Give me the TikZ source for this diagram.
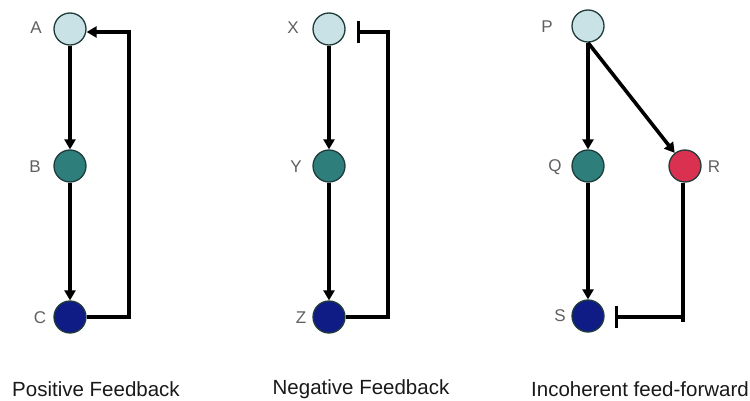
\documentclass[tikz,border=0pt]{standalone}
\usepackage{fontspec}
\setmainfont{Liberation Sans}
\usetikzlibrary{arrows.meta,calc}
\definecolor{cLight}{HTML}{C8E2E6}
\definecolor{cTeal}{HTML}{2E7F7C}
\definecolor{cNavy}{HTML}{101C85}
\definecolor{cRed}{HTML}{DA3150}
\definecolor{cEdge}{HTML}{1F3B3B}
\tikzset{
  gene/.style={circle,draw=cEdge,line width=1.3pt,minimum size=32pt,inner sep=0pt},
  lbl/.style={text=gray!75!black,font=\fontsize{17}{17}\selectfont,inner sep=0pt},
  ttl/.style={font=\fontsize{20.5}{21}\selectfont,inner sep=0pt,text=black!90},
  act/.style={line width=3.6pt,-{Triangle[length=10pt,width=11pt]}},
  inh/.style={line width=3.6pt,-{Bar[width=22pt]}},
  wire/.style={line width=3.6pt}
}
\begin{document}
\begin{tikzpicture}[x=1pt,y=-1pt]
\useasboundingbox (0,0) rectangle (750,401);
% Positive feedback
\node[gene,fill=cLight] (A) at (70,29) {};
\node[gene,fill=cTeal] (B) at (70,166) {};
\node[gene,fill=cNavy] (C) at (70,317) {};
\node[lbl] (lA) at (36,28) {A};
\node[lbl] (lB) at (35,167) {B};
\node[lbl] (lC) at (40,318) {C};
\coordinate (cA) at (129,32);
\draw[act] (A) -- (B);
\draw[act] (B) -- (C);
\draw[act] (C.east) -| (cA) -- (A.east |- cA);
% Negative feedback
\node[gene,fill=cLight] (X) at (329,29) {};
\node[gene,fill=cTeal] (Y) at (329,166) {};
\node[gene,fill=cNavy] (Z) at (329,317) {};
\node[lbl] (lX) at (293,28) {X};
\node[lbl] (lY) at (296,167) {Y};
\node[lbl] (lZ) at (301,318) {Z};
\coordinate (cX) at (388,32);
\draw[act] (X) -- (Y);
\draw[act] (Y) -- (Z);
\draw[inh,shorten >=11pt] (Z.east) -| (cX) -- (X.east |- cX);
% Incoherent feed-forward
\node[gene,fill=cLight] (P) at (588,26) {};
\node[gene,fill=cTeal] (Q) at (588,166) {};
\node[gene,fill=cRed] (R) at (685,166) {};
\node[gene,fill=cNavy] (S) at (588,316) {};
\node[lbl] (lP) at (547,27) {P};
\node[lbl] (lQ) at (555,167) {Q};
\node[lbl] (lR) at (714,167) {R};
\node[lbl] (lS) at (560,316) {S};
\coordinate (cR) at (683,317);
\draw[act] (P) -- (Q);
\draw[act] (P.south) -- (R);
\draw[act] (Q) -- (S);
\draw[wire] (R.south -| cR) -- ($(cR)+(0,5)$);
\draw[inh,shorten >=10pt] (cR) -- (S.east |- cR);
% Titles
\node[ttl] (t1) at (96,389) {Positive Feedback};
\node[ttl] (t2) at (361,389) {Negative Feedback};
\node[ttl] (t3) at (640,389) {Incoherent feed-forward};
\end{tikzpicture}
\end{document}
